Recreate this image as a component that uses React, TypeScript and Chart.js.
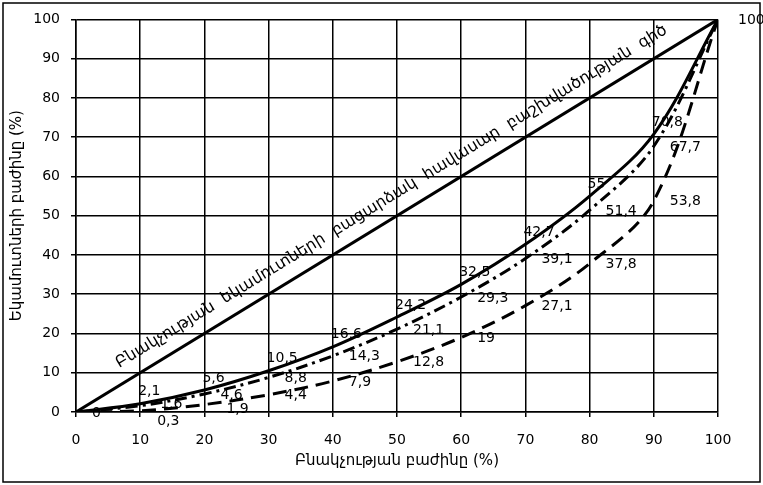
import React, { useEffect, useRef } from 'react';
import { Chart, registerables } from 'chart.js';

Chart.register(...registerables);

// ---- data ----
const populationShare = [0, 10, 20, 30, 40, 50, 60, 70, 80, 90, 100];
const equalityX = [0, 100];
const equalityY = [0, 100];
const curveSolid = [0, 2.1, 5.6, 10.5, 16.6, 24.2, 32.5, 42.7, 55, 70.8, 100];
const curveDashDot = [0, 1.6, 4.6, 8.8, 14.3, 21.1, 29.3, 39.1, 51.4, 67.7, 100];
const curveDashed = [0, 0.3, 1.9, 4.4, 7.9, 12.8, 19, 27.1, 37.8, 53.8, 100];
const axisTicks = [0, 10, 20, 30, 40, 50, 60, 70, 80, 90, 100];

// which points carry a value label
const showSolid = [false, true, true, true, true, true, true, true, true, true, false];
const showDashDot = [true, true, true, true, true, true, true, true, true, true, false];
const showDashed = [false, true, true, true, true, true, true, true, true, true, true];

const equalityLabel = ['Բնակչության', 'եկամուտների', 'բացարձակ', 'հավասար', 'բաշխվածության', 'գիծ'];
const xTitle = 'Բնակչության բաժինը (%)';
const yTitle = 'Եկամուտների բաժինը (%)';

const FONT = '"DejaVu Sans", sans-serif';

const fmt = (v: number) => String(v).replace('.', ',');

const toPoints = (ys: number[]) => ys.map((y, i) => ({ x: populationShare[i], y }));

const framePlugin = {
  id: 'frame',
  beforeDraw(chart: any) {
    const { ctx, width, height } = chart;
    ctx.save();
    ctx.fillStyle = '#fff';
    ctx.fillRect(0, 0, width, height);
    ctx.restore();
  },
  afterDraw(chart: any) {
    const { ctx } = chart;
    ctx.save();
    ctx.strokeStyle = '#000';
    ctx.lineWidth = 1.5;
    ctx.strokeRect(3, 3, 757, 479);
    ctx.restore();
  },
};

const valueLabelPlugin = {
  id: 'valueLabels',
  beforeDatasetsDraw(chart: any) {
    const ctx = chart.ctx;
    ctx.save();
    ctx.font = '14px ' + FONT;
    ctx.fillStyle = '#000';
    chart.data.datasets.forEach((ds: any, di: number) => {
      const cfg = ds.labelCfg;
      if (!cfg) return;
      const meta = chart.getDatasetMeta(di);
      meta.data.forEach((pt: any, i: number) => {
        if (!cfg.show[i]) return;
        const nudge = (cfg.nudge && cfg.nudge[i]) || [0, 0];
        ctx.textAlign = 'left';
        ctx.textBaseline = cfg.baseline;
        ctx.fillText(fmt(ds.data[i].y), pt.x + cfg.dx + nudge[0], pt.y + cfg.dy + nudge[1]);
      });
    });
    ctx.restore();
  },
};

const diagonalTextPlugin = {
  id: 'diagonalText',
  afterDatasetsDraw(chart: any) {
    const { ctx } = chart;
    const xs = chart.scales.x;
    const ys = chart.scales.y;
    const x0 = xs.getPixelForValue(equalityX[0]);
    const y0 = ys.getPixelForValue(equalityY[0]);
    const x1 = xs.getPixelForValue(equalityX[1]);
    const y1 = ys.getPixelForValue(equalityY[1]);
    const ang = Math.atan2(y1 - y0, x1 - x0);
    ctx.save();
    ctx.translate(x0, y0);
    ctx.rotate(ang);
    ctx.font = '16px ' + FONT;
    ctx.fillStyle = '#000';
    ctx.textAlign = 'left';
    ctx.textBaseline = 'alphabetic';
    const start = 60;
    const end = 703;
    const widths = equalityLabel.map((w) => ctx.measureText(w).width);
    const total = widths.reduce((a, b) => a + b, 0);
    const gap = (end - start - total) / (equalityLabel.length - 1);
    let pos = start;
    equalityLabel.forEach((w, i) => {
      ctx.fillText(w, pos, -15);
      pos += widths[i] + gap;
    });
    ctx.restore();
  },
};

export default function App() {
  const ref = useRef<HTMLCanvasElement | null>(null);

  useEffect(() => {
    if (!ref.current) return;
    const chart = new Chart(ref.current, {
      type: 'line',
      data: {
        datasets: [
          {
            label: 'equality',
            data: equalityX.map((x, i) => ({ x, y: equalityY[i] })),
            borderColor: '#000',
            borderWidth: 3,
            pointRadius: 0,
            tension: 0,
          },
          {
            label: 'solid',
            data: toPoints(curveSolid),
            borderColor: '#000',
            borderWidth: 3,
            pointRadius: 0,
            tension: 0.35,
            labelCfg: { show: showSolid, dx: -2, dy: -5, baseline: 'bottom' },
          } as any,
          {
            label: 'dashdot',
            data: toPoints(curveDashDot),
            borderColor: '#000',
            borderWidth: 3,
            borderDash: [12, 5, 3, 5],
            pointRadius: 0,
            tension: 0.35,
            labelCfg: { show: showDashDot, dx: 16, dy: 1, baseline: 'middle', nudge: { 1: [4, -2] } },
          } as any,
          {
            label: 'dashed',
            data: toPoints(curveDashed),
            borderColor: '#000',
            borderWidth: 3,
            borderDash: [14, 8],
            pointRadius: 0,
            tension: 0.35,
            labelCfg: { show: showDashed, dx: 16, dy: 1, baseline: 'middle', nudge: { 1: [1, 10], 2: [6, 4], 10: [4, 0] } },
          } as any,
        ],
      },
      options: {
        animation: false,
        responsive: false,
        maintainAspectRatio: false,
        layout: { padding: { left: 0, right: 45, top: 14, bottom: 0 } },
        plugins: {
          legend: { display: false },
          tooltip: { enabled: false },
          title: { display: false },
        },
        scales: {
          x: {
            type: 'linear',
            min: 0,
            max: 100,
            afterBuildTicks: (s: any) => {
              s.ticks = axisTicks.map((v) => ({ value: v }));
            },
            afterFit: (s: any) => {
              s.height = 73;
            },
            grid: { color: '#000', lineWidth: 1.5, tickLength: 5, drawTicks: true },
            border: { color: '#000', width: 1.5 },
            ticks: { color: '#000', font: { family: FONT, size: 14 }, padding: 15, maxRotation: 0 },
            title: {
              display: true,
              text: xTitle,
              color: '#000',
              font: { family: FONT, size: 15 },
              padding: { top: 0, bottom: 15 },
            },
          },
          y: {
            type: 'linear',
            min: 0,
            max: 100,
            afterBuildTicks: (s: any) => {
              s.ticks = axisTicks.map((v) => ({ value: v }));
            },
            afterFit: (s: any) => {
              s.width = 76;
            },
            grid: { color: '#000', lineWidth: 1.5, tickLength: 5, drawTicks: true },
            border: { color: '#000', width: 1.5 },
            ticks: { color: '#000', font: { family: FONT, size: 14 }, padding: 11 },
            title: {
              display: true,
              text: yTitle,
              color: '#000',
              font: { family: FONT, size: 15 },
              padding: { top: 8, bottom: 0 },
            },
          },
        },
      },
      plugins: [framePlugin, valueLabelPlugin, diagonalTextPlugin],
    });
    return () => chart.destroy();
  }, []);

  return (
    <div style={{ position: 'fixed', left: 0, top: 0, width: 763, height: 485 }}>
      <canvas ref={ref} width={763} height={485} style={{ width: 763, height: 485, display: 'block' }} />
    </div>
  );
}
